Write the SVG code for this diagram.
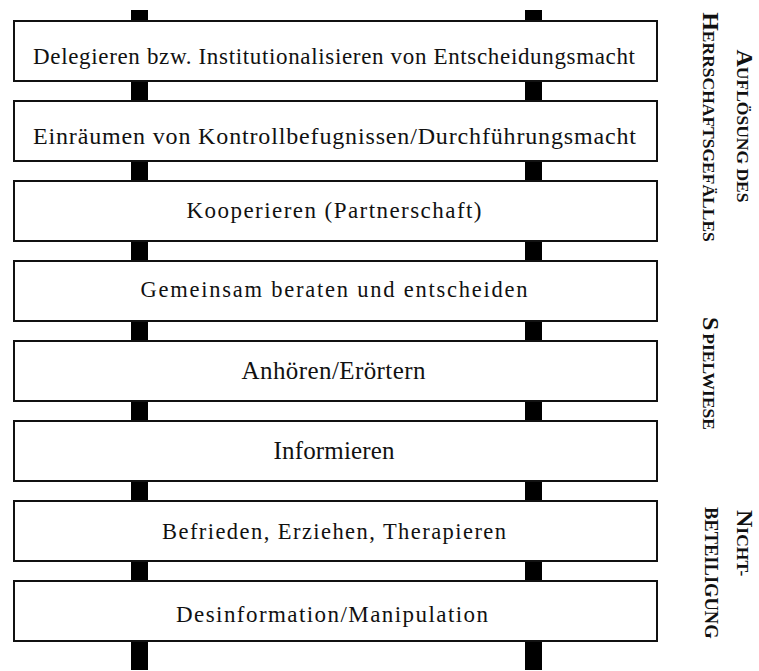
<svg xmlns="http://www.w3.org/2000/svg" width="759" height="671" viewBox="0 0 759 671">
<style>
.post{fill:#000}
.box{fill:#fff;stroke:#111;stroke-width:2}
.lbl{font-family:"Liberation Serif","Times New Roman",serif;fill:#111;text-anchor:middle}
.side{font-family:"Liberation Serif","Times New Roman",serif;font-weight:bold;fill:#111}
</style>
<rect width="759" height="671" fill="#fff"/>
<g id="connectors">
<rect class="post" x="131" y="10" width="17" height="660"/>
<rect class="post" x="525" y="10" width="17" height="660"/>
</g>
<g id="n1"><rect class="box" x="14" y="21" width="643" height="60"/><text class="lbl" x="334" y="64" font-size="23" textLength="602" lengthAdjust="spacing">Delegieren bzw. Institutionalisieren von Entscheidungsmacht</text></g>
<g id="n2"><rect class="box" x="14" y="101" width="643" height="60"/><text class="lbl" x="334.5" y="144.3" font-size="24" textLength="603" lengthAdjust="spacing">Einräumen von Kontrollbefugnissen/Durchführungsmacht</text></g>
<g id="n3"><rect class="box" x="14" y="181" width="643" height="60"/><text class="lbl" x="334" y="218" font-size="23" textLength="295" lengthAdjust="spacing">Kooperieren (Partnerschaft)</text></g>
<g id="n4"><rect class="box" x="14" y="261" width="643" height="60"/><text class="lbl" x="334" y="297" font-size="22.5" textLength="387" lengthAdjust="spacing">Gemeinsam beraten und entscheiden</text></g>
<g id="n5"><rect class="box" x="14" y="341" width="643" height="60"/><text class="lbl" x="333.5" y="379.3" font-size="25" textLength="184" lengthAdjust="spacing">Anhören/Erörtern</text></g>
<g id="n6"><rect class="box" x="14" y="421" width="643" height="60"/><text class="lbl" x="334" y="459" font-size="25" textLength="121" lengthAdjust="spacing">Informieren</text></g>
<g id="n7"><rect class="box" x="14" y="501" width="643" height="60"/><text class="lbl" x="334" y="538.5" font-size="22.5" textLength="344" lengthAdjust="spacing">Befrieden, Erziehen, Therapieren</text></g>
<g id="n8"><rect class="box" x="14" y="581" width="643" height="60"/><text class="lbl" x="332" y="621.7" font-size="23" textLength="312" lengthAdjust="spacing">Desinformation/Manipulation</text></g>
<g id="side-labels">
<text class="side" transform="translate(737,126) rotate(90)" text-anchor="middle"><tspan font-size="24">A</tspan><tspan font-size="17.5">UFLÖSUNG DES</tspan></text>
<text class="side" transform="translate(703,127) rotate(90)" text-anchor="middle"><tspan font-size="24">H</tspan><tspan font-size="17.5">ERRSCHAFTSGEFÄLLES</tspan></text>
<text class="side" transform="translate(703,317) rotate(90)"><tspan font-size="24">S</tspan><tspan font-size="17.5" dx="3">PIELWIESE</tspan></text>
<text class="side" transform="translate(737,510) rotate(90)"><tspan font-size="24">N</tspan><tspan font-size="17.5">ICHT-</tspan></text>
<text class="side" transform="translate(705,507) rotate(90)" font-size="18.5">BETEILIGUNG</text>
</g>
</svg>
